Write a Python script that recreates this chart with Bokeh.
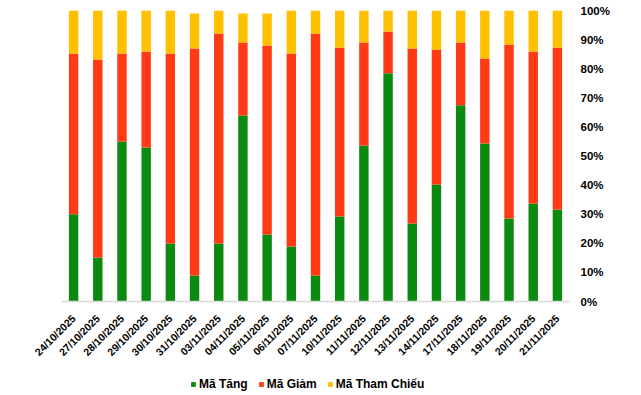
from bokeh.plotting import figure
from bokeh.layouts import column
from bokeh.models import FactorRange, Range1d, FixedTicker, PrintfTickFormatter, Legend
from bokeh.embed import file_html
from bokeh.resources import INLINE

dates = ["24/10/2025", "27/10/2025", "28/10/2025", "29/10/2025", "30/10/2025",
         "31/10/2025", "03/11/2025", "04/11/2025", "05/11/2025", "06/11/2025",
         "07/11/2025", "10/11/2025", "11/11/2025", "12/11/2025", "13/11/2025",
         "14/11/2025", "17/11/2025", "18/11/2025", "19/11/2025", "20/11/2025",
         "21/11/2025"]
ma_tang = [30.0, 15.1, 55.0, 52.9, 19.9, 8.9, 19.9, 63.9, 23.0, 18.9, 8.9,
           29.2, 53.6, 78.4, 26.8, 40.2, 67.4, 54.3, 28.5, 33.7, 31.6]
ma_giam = [55.2, 68.1, 30.2, 33.0, 65.3, 78.0, 72.2, 25.1, 65.0, 66.3, 83.2,
           58.1, 35.4, 14.4, 60.1, 46.4, 21.6, 29.2, 59.8, 52.2, 55.7]
ma_tham_chieu = [14.8, 16.8, 14.8, 14.1, 14.8, 12.1, 8.2, 10.0, 11.0, 14.8, 7.9,
                 12.7, 11.0, 7.2, 13.1, 13.4, 11.0, 16.5, 11.7, 14.1, 12.7]
y_ticks = [0, 10, 20, 30, 40, 50, 60, 70, 80, 90, 100]

series = ["Mã Tăng", "Mã Giảm", "Mã Tham Chiếu"]
colors = ["#0B8A12", "#FF3A14", "#FFC000"]
keys = ["tang", "giam", "tham"]

data = {"dates": dates, "tang": ma_tang, "giam": ma_giam, "tham": ma_tham_chieu}

p = figure(width=625, height=365, x_range=FactorRange(*dates, range_padding=0),
           y_range=Range1d(0, 100), y_axis_location="right",
           output_backend="svg", toolbar_location=None,
           min_border_left=61, min_border_right=56, min_border_top=10,
           min_border_bottom=64)

rs = p.vbar_stack(keys, x="dates", width=0.39, source=data, color=colors,
                  line_color=None)

p.xgrid.grid_line_color = None
p.ygrid.grid_line_color = None
p.outline_line_color = None

xa = p.xaxis[0]
xa.axis_line_color = "#D9D9D9"
xa.axis_line_width = 1.5
xa.major_tick_line_color = None
xa.minor_tick_line_color = None
xa.major_label_orientation = 0.785398
xa.major_label_standoff = 9
xa.major_label_text_font = "Liberation Sans"
xa.major_label_text_font_style = "bold"
xa.major_label_text_font_size = "10.5px"
xa.major_label_text_color = "#000000"

ya = p.yaxis[0]
ya.ticker = FixedTicker(ticks=y_ticks)
ya.formatter = PrintfTickFormatter(format="%d%%")
ya.axis_line_color = None
ya.major_tick_line_color = None
ya.minor_tick_line_color = None
ya.major_tick_out = 0
ya.minor_tick_out = 0
ya.major_label_standoff = 11
ya.major_label_text_font = "Liberation Sans"
ya.major_label_text_font_style = "bold"
ya.major_label_text_font_size = "11.5px"
ya.major_label_text_color = "#000000"

# legend strip below the chart
pl = figure(width=625, height=26, output_backend="svg", toolbar_location=None,
            min_border=0, min_border_left=0, min_border_right=0,
            min_border_top=0, min_border_bottom=0,
            x_range=Range1d(0, 1), y_range=Range1d(0, 1),
            x_axis_location=None, y_axis_location=None)
pl.grid.visible = False
pl.outline_line_color = None
lr = [pl.vbar(x=[0.5], top=[0], bottom=[0], width=0, color=c, line_color=None)
      for c in colors]
legend = Legend(items=[(s, [r]) for s, r in zip(series, lr)],
                orientation="horizontal", location=(129, 0),
                glyph_width=6, glyph_height=6, label_standoff=3, spacing=10,
                padding=0, margin=0, border_line_color=None,
                background_fill_alpha=0, label_height=12,
                label_text_font="Liberation Sans", label_text_font_style="bold",
                label_text_font_size="12px", label_text_color="#000000")
pl.add_layout(legend, "center")

layout = column(p, pl, spacing=0)
open("out.html", "w").write(file_html(layout, INLINE))
